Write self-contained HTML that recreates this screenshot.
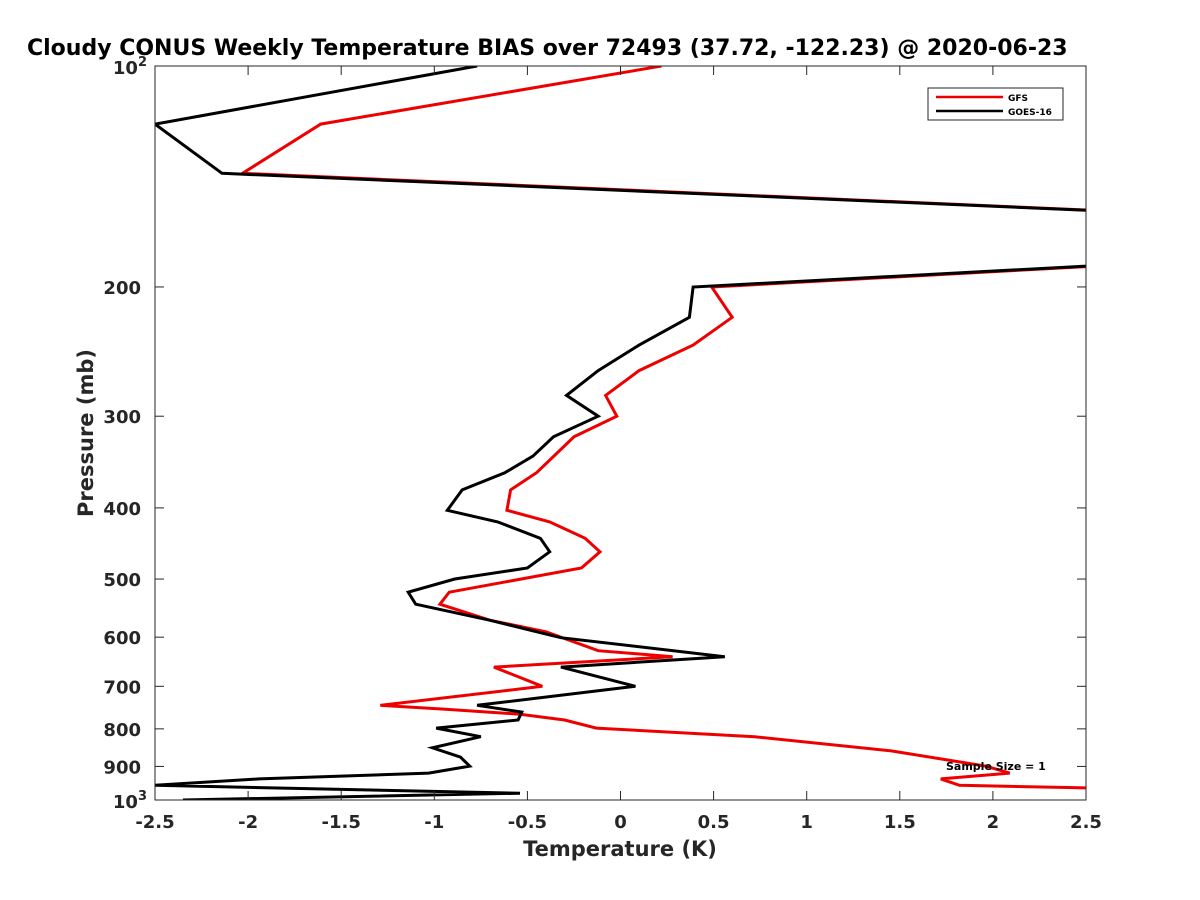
<!DOCTYPE html>
<html><head><meta charset="utf-8"><style>
body{margin:0;background:#fff;}
svg{display:block;font-family:"DejaVu Sans","Liberation Sans",sans-serif;}
</style></head><body>
<svg id="chart" width="1200" height="900">
<rect width="1200" height="900" fill="#fff"/>
<text x="27" y="55" font-size="22" font-weight="bold">Cloudy CONUS Weekly Temperature BIAS over 72493 (37.72, -122.23) @ 2020-06-23</text>
<defs><clipPath id="clip"><rect x="155" y="66" width="931" height="734"/></clipPath></defs>
<g id="series" clip-path="url(#clip)"></g>
<rect x="155" y="66" width="931" height="734" fill="none" stroke="#262626" stroke-width="1"/>
<g id="axes"></g>
<text x="620" y="856" font-size="21" font-weight="bold" text-anchor="middle" fill="#262626">Temperature (K)</text>
<text transform="translate(93,433) rotate(-90)" font-size="21" font-weight="bold" text-anchor="middle" fill="#262626">Pressure (mb)</text>
<g>
<rect x="928" y="88" width="135" height="32" fill="#fff" stroke="#262626" stroke-width="1"/>
<line x1="936" y1="97" x2="1003" y2="97" stroke="#e00" stroke-width="2.5"/>
<text x="1008" y="101" font-size="9" font-weight="bold">GFS</text>
<line x1="936" y1="111" x2="1003" y2="111" stroke="#000" stroke-width="2.5"/>
<text x="1008" y="115" font-size="9" font-weight="bold">GOES-16</text>
</g>
<text x="946" y="770" font-size="11" font-weight="bold">Sample Size = 1</text>
</svg>
<script>
const pressures = [100,120,140,170,200,220,240,260,281,300,320,340,358,378,403,418,440,459,483,500,521,541,569,601,638,659,700,743,759,778,798,820,849,874,899,919,936,955,979,1000];
const goesValues = [-0.77,-2.5,-2.14,5.63,0.39,0.37,0.10,-0.12,-0.29,-0.12,-0.36,-0.47,-0.62,-0.85,-0.93,-0.66,-0.43,-0.38,-0.50,-0.89,-1.14,-1.10,-0.70,-0.32,0.56,-0.32,0.08,-0.77,-0.53,-0.55,-0.99,-0.75,-1.01,-0.86,-0.81,-1.03,-1.94,-2.5,-0.54,-2.35];
const gfsPressures = [100,120,140,170,200,220,240,260,281,300,320,358,378,403,418,440,459,483,521,541,569,590,626,638,659,700,743,752,764,778,798,820,857,899,919,936,955,964];
const gfsValues = [0.22,-1.61,-2.03,5.6,0.49,0.60,0.39,0.10,-0.08,-0.02,-0.25,-0.45,-0.59,-0.61,-0.38,-0.19,-0.11,-0.21,-0.92,-0.97,-0.70,-0.40,-0.12,0.28,-0.68,-0.42,-1.29,-0.95,-0.54,-0.30,-0.13,0.72,1.45,1.96,2.09,1.72,1.82,2.6];
const xTicks = [-2.5,-2,-1.5,-1,-0.5,0,0.5,1,1.5,2,2.5];
const xTickLabels = ["-2.5","-2","-1.5","-1","-0.5","0","0.5","1","1.5","2","2.5"];
const yTicks = [200,300,400,500,600,700,800,900];
const NS="http://www.w3.org/2000/svg";
function xs(t){return 155+(t+2.5)/5*931;}
function ys(p){return 66+(Math.log10(p)-2)*734;}
function mk(tag,attrs,parent){const e=document.createElementNS(NS,tag);for(const k in attrs)e.setAttribute(k,attrs[k]);parent.appendChild(e);return e;}
const ser=document.getElementById('series');
function drawLine(ps,vs,color,name){
  const d=vs.map((v,i)=>(i?'L':'M')+xs(v).toFixed(1)+','+ys(ps[i]).toFixed(1)).join('');
  const p=mk('path',{d:d,fill:'none',stroke:color,'stroke-width':3,'stroke-linejoin':'miter'},ser);
  
  
}
drawLine(gfsPressures,gfsValues,'#e00','gfs-line');
drawLine(pressures,goesValues,'#000','goes16-line');
const ax=document.getElementById('axes');
xTicks.forEach((t,i)=>{
  const x=xs(t);
  mk('line',{x1:x,y1:800,x2:x,y2:791,stroke:'#262626'},ax);
  mk('line',{x1:x,y1:66,x2:x,y2:75,stroke:'#262626'},ax);
  const tx=mk('text',{x:x,y:828,'font-size':18,'font-weight':'bold','text-anchor':'middle',fill:'#262626'},ax);
  tx.textContent=xTickLabels[i];
  
  
});
yTicks.forEach(p=>{
  const y=ys(p);
  mk('line',{x1:155,y1:y,x2:164,y2:y,stroke:'#262626'},ax);
  mk('line',{x1:1086,y1:y,x2:1077,y2:y,stroke:'#262626'},ax);
  const tx=mk('text',{x:141,y:y+7,'font-size':18,'font-weight':'bold','text-anchor':'end',fill:'#262626'},ax);
  tx.textContent=String(p);
  
  
});
[[100,74],[1000,808]].forEach(([p,yy])=>{
  const tx=mk('text',{x:147,y:yy,'font-size':18,'font-weight':'bold','text-anchor':'end',fill:'#262626'},ax);
  tx.innerHTML='10<tspan dy="-8" font-size="13">'+(p===100?'2':'3')+'</tspan>';
  
  
});
</script>
</body></html>
